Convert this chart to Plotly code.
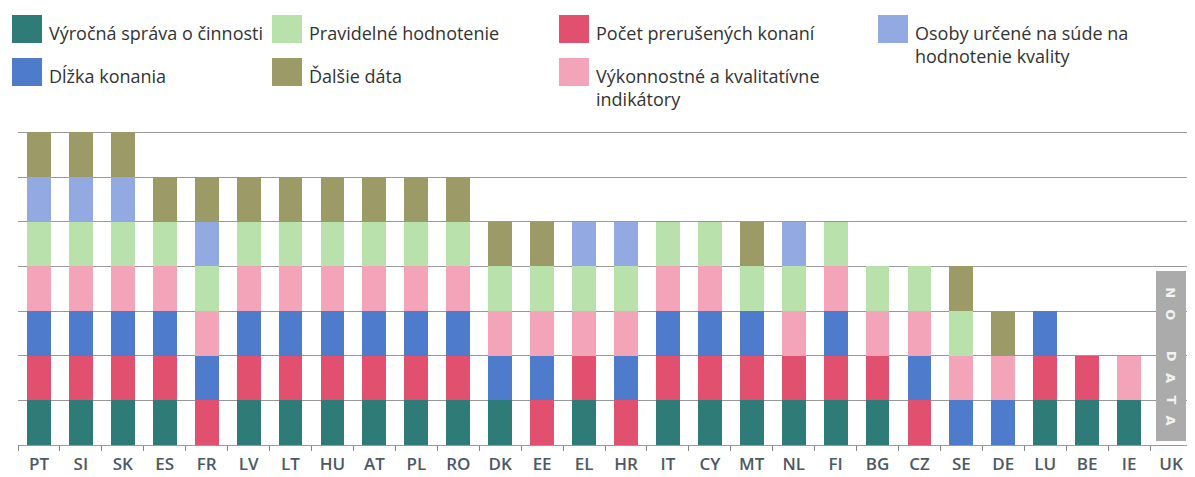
import plotly.graph_objects as go

countries = ["PT", "SI", "SK", "ES", "FR", "LV", "LT", "HU", "AT", "PL", "RO", "DK", "EE", "EL",
             "HR", "IT", "CY", "MT", "NL", "FI", "BG", "CZ", "SE", "DE", "LU", "BE", "IE", "UK"]

# stacked categories per country, bottom to top
# T=Výročná správa, R=Počet prerušených, B=Dĺžka, P=Výkonnostné, G=Pravidelné, L=Osoby, O=Ďalšie
stacks = {
    "PT": "TRBPGLO", "SI": "TRBPGLO", "SK": "TRBPGLO",
    "ES": "TRBPGO", "FR": "RBPGLO", "LV": "TRBPGO", "LT": "TRBPGO", "HU": "TRBPGO",
    "AT": "TRBPGO", "PL": "TRBPGO", "RO": "TRBPGO",
    "DK": "TBPGO", "EE": "RBPGO", "EL": "TRPGL", "HR": "RBPGL", "IT": "TRBPG",
    "CY": "TRBPG", "MT": "TRBGO", "NL": "TRPGL", "FI": "TRBPG",
    "BG": "TRPG", "CZ": "RBPG", "SE": "BPGO",
    "DE": "BPO", "LU": "TRB", "BE": "TR", "IE": "TP", "UK": "",
}
no_data = ["UK"]
no_data_value = [3.8]
no_data_label = "NO DATA"

cat_codes = ["T", "G", "R", "L", "B", "O", "P"]
cat_names = {
    "T": "Výročná správa o činnosti",
    "B": "Dĺžka konania",
    "G": "Pravidelné hodnotenie",
    "O": "Ďalšie dáta",
    "R": "Počet prerušených konaní",
    "P": "Výkonnostné a kvalitatívne<br>indikátory",
    "L": "Osoby určené na súde na<br>hodnotenie kvality",
}
cat_colors = {
    "T": "#2f7b77", "B": "#4e7bcb", "G": "#b8e1ab", "O": "#9c9a66",
    "R": "#e1506f", "P": "#f4a4b8", "L": "#93a9e2",
}

fig = go.Figure()
for c in cat_codes:
    xs, bases, ys = [], [], []
    for ctry in countries:
        s = stacks[ctry]
        if c in s:
            xs.append(ctry)
            bases.append(s.index(c))
            ys.append(1)
    fig.add_trace(go.Bar(x=xs, y=ys, base=bases, marker=dict(color=cat_colors[c], line=dict(width=0)),
                         width=0.57, name=cat_names[c], showlegend=False))

# no data bar
fig.add_trace(go.Bar(x=no_data, y=no_data_value, base=[0.1], width=0.72,
                     marker=dict(color="#ababab", line=dict(width=0)), showlegend=False))

# vertical "NO DATA" text, one letter per annotation, rotated
letter_y = [3.42, 2.93, None, 2.0, 1.5, 1.02, 0.55]
for ch, yy in zip(no_data_label, letter_y):
    if yy is None:
        continue
    fig.add_annotation(x=no_data[0], y=yy, text=ch, showarrow=False, textangle=90,
                       font=dict(size=13, color="#f2f2f2", family="DejaVu Sans", weight="bold"))

# geometry (page has an 8px body margin)
OFF = 8
W, H = 1195 - OFF, 477 - OFF
L, R, T, B = 10, 3, 120, 32
pw, ph = W - L - R, H - T - B

def px(x):
    return (x - OFF - L) / pw

def py(y):
    return (H - B - (y - OFF)) / ph

legend_layout = [
    ("T", 12, 15), ("G", 272, 15), ("R", 559, 15), ("L", 878, 15),
    ("B", 12, 58), ("O", 272, 58), ("P", 559, 58),
]
for c, sx, sy in legend_layout:
    fig.add_shape(type="rect", xref="paper", yref="paper",
                  x0=px(sx), x1=px(sx + 30), y0=py(sy), y1=py(sy + 28),
                  fillcolor=cat_colors[c], line=dict(width=0))
    fig.add_annotation(xref="paper", yref="paper", x=px(sx + 35), y=py(sy + 4),
                       xanchor="left", yanchor="top", align="left", showarrow=False,
                       text=cat_names[c], font=dict(size=18, color="#333333", family="Open Sans"))

fig.update_layout(
    width=W, height=H,
    margin=dict(l=L, r=R, t=T, b=B, autoexpand=False),
    barmode="overlay",
    plot_bgcolor="white", paper_bgcolor="white",
    bargap=0,
    xaxis=dict(type="category", categoryorder="array", categoryarray=countries,
               tickson="boundaries", ticks="outside", ticklen=5, tickcolor="#888888",
               showline=False, showgrid=False, ticklabelstandoff=7, automargin=False,
               tickfont=dict(size=17, color="#4d5866", family="Open Sans", weight=600),
               range=[-0.5, len(countries) - 0.5]),
    yaxis=dict(range=[0, 7.1], dtick=1, showgrid=True, gridcolor="#999999", gridwidth=1,
               showticklabels=False, zeroline=True, zerolinecolor="#999999", zerolinewidth=1,
               fixedrange=True, automargin=False),
)

fig.write_html("out.html")
